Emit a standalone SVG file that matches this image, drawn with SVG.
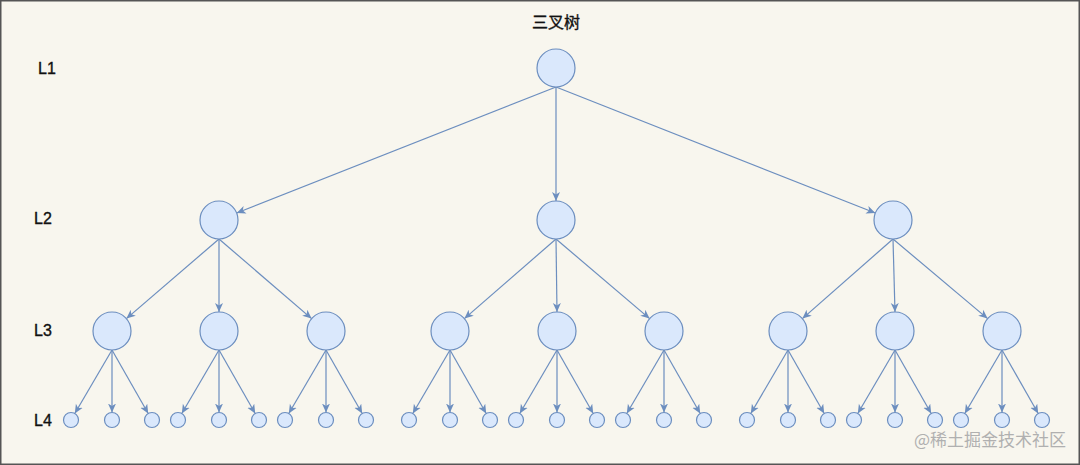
<svg xmlns="http://www.w3.org/2000/svg" width="1080" height="465" viewBox="0 0 1080 465">
<defs>
<marker id="a" markerUnits="userSpaceOnUse" markerWidth="10" markerHeight="10" viewBox="0 0 10 10" refX="9" refY="5" orient="auto"><path d="M0,1 L9,5 L0,9 L2.5,5 Z" fill="#6c8ebf"/></marker>
<style>
.n{fill:#dae8fc;stroke:#6c8ebf;stroke-width:1.2}
.e line{stroke:#6c8ebf;stroke-width:1.2;marker-end:url(#a)}
.t{font-family:"Liberation Sans",Arial,sans-serif;font-size:16px;fill:#111;stroke:#111;stroke-width:0.35}
</style>
</defs>
<rect x="0.5" y="0.5" width="1079" height="464" fill="#f8f6ee" stroke="#555" stroke-width="2"/>
<text class="t" x="556" y="28" text-anchor="middle" style="font-family:'Noto Sans CJK SC',sans-serif;font-size:16px">三叉树</text>
<text class="t" x="38" y="74">L1</text>
<text class="t" x="34" y="224">L2</text>
<text class="t" x="34" y="336">L3</text>
<text class="t" x="34" y="426">L4</text>
<g class="e" id="edges">
<line x1="556" y1="87" x2="236.7" y2="213"/><line x1="556" y1="87" x2="556" y2="201"/><line x1="556" y1="87" x2="875.3" y2="213"/>
<line x1="219" y1="239" x2="126.4" y2="318.6"/><line x1="219" y1="239" x2="219" y2="312"/><line x1="219" y1="239" x2="311.6" y2="318.6"/>
<line x1="556" y1="239" x2="464.4" y2="318.6"/><line x1="556" y1="239" x2="557" y2="312"/><line x1="556" y1="239" x2="649.6" y2="318.6"/>
<line x1="893" y1="239" x2="802.4" y2="318.6"/><line x1="893" y1="239" x2="895" y2="312"/><line x1="893" y1="239" x2="987.6" y2="318.6"/>
<line x1="112" y1="350" x2="74.8" y2="413.5"/><line x1="112" y1="350" x2="112" y2="412.5"/><line x1="112" y1="350" x2="148.2" y2="413.5"/>
<line x1="219" y1="350" x2="181.8" y2="413.5"/><line x1="219" y1="350" x2="219" y2="412.5"/><line x1="219" y1="350" x2="255.2" y2="413.5"/>
<line x1="326" y1="350" x2="288.8" y2="413.5"/><line x1="326" y1="350" x2="326" y2="412.5"/><line x1="326" y1="350" x2="362.2" y2="413.5"/>
<line x1="450" y1="350" x2="412.8" y2="413.5"/><line x1="450" y1="350" x2="450" y2="412.5"/><line x1="450" y1="350" x2="486.2" y2="413.5"/>
<line x1="557" y1="350" x2="519.8" y2="413.5"/><line x1="557" y1="350" x2="557" y2="412.5"/><line x1="557" y1="350" x2="593.2" y2="413.5"/>
<line x1="664" y1="350" x2="626.8" y2="413.5"/><line x1="664" y1="350" x2="664" y2="412.5"/><line x1="664" y1="350" x2="700.2" y2="413.5"/>
<line x1="788" y1="350" x2="750.8" y2="413.5"/><line x1="788" y1="350" x2="788" y2="412.5"/><line x1="788" y1="350" x2="824.2" y2="413.5"/>
<line x1="895" y1="350" x2="857.8" y2="413.5"/><line x1="895" y1="350" x2="895" y2="412.5"/><line x1="895" y1="350" x2="931.2" y2="413.5"/>
<line x1="1002" y1="350" x2="964.8" y2="413.5"/><line x1="1002" y1="350" x2="1002" y2="412.5"/><line x1="1002" y1="350" x2="1038.2" y2="413.5"/>
</g>
<g id="n1"><circle class="n" cx="556" cy="68" r="19"/></g>
<g id="n2a"><circle class="n" cx="219" cy="220" r="19"/></g>
<g id="n2b"><circle class="n" cx="556" cy="220" r="19"/></g>
<g id="n2c"><circle class="n" cx="893" cy="220" r="19"/></g>
<g id="n3a"><circle class="n" cx="112" cy="331" r="19"/></g>
<g id="n3b"><circle class="n" cx="219" cy="331" r="19"/></g>
<g id="n3c"><circle class="n" cx="326" cy="331" r="19"/></g>
<g id="n3d"><circle class="n" cx="450" cy="331" r="19"/></g>
<g id="n3e"><circle class="n" cx="557" cy="331" r="19"/></g>
<g id="n3f"><circle class="n" cx="664" cy="331" r="19"/></g>
<g id="n3g"><circle class="n" cx="788" cy="331" r="19"/></g>
<g id="n3h"><circle class="n" cx="895" cy="331" r="19"/></g>
<g id="n3i"><circle class="n" cx="1002" cy="331" r="19"/></g>
<g id="l4">
<circle class="n" cx="71" cy="420" r="7.5"/><circle class="n" cx="112" cy="420" r="7.5"/><circle class="n" cx="152" cy="420" r="7.5"/>
<circle class="n" cx="178" cy="420" r="7.5"/><circle class="n" cx="219" cy="420" r="7.5"/><circle class="n" cx="259" cy="420" r="7.5"/>
<circle class="n" cx="285" cy="420" r="7.5"/><circle class="n" cx="326" cy="420" r="7.5"/><circle class="n" cx="366" cy="420" r="7.5"/>
<circle class="n" cx="409" cy="420" r="7.5"/><circle class="n" cx="450" cy="420" r="7.5"/><circle class="n" cx="490" cy="420" r="7.5"/>
<circle class="n" cx="516" cy="420" r="7.5"/><circle class="n" cx="557" cy="420" r="7.5"/><circle class="n" cx="597" cy="420" r="7.5"/>
<circle class="n" cx="623" cy="420" r="7.5"/><circle class="n" cx="664" cy="420" r="7.5"/><circle class="n" cx="704" cy="420" r="7.5"/>
<circle class="n" cx="747" cy="420" r="7.5"/><circle class="n" cx="788" cy="420" r="7.5"/><circle class="n" cx="828" cy="420" r="7.5"/>
<circle class="n" cx="854" cy="420" r="7.5"/><circle class="n" cx="895" cy="420" r="7.5"/><circle class="n" cx="935" cy="420" r="7.5"/>
<circle class="n" cx="961" cy="420" r="7.5"/><circle class="n" cx="1002" cy="420" r="7.5"/><circle class="n" cx="1042" cy="420" r="7.5"/>
</g>
<text x="1066" y="446" text-anchor="end" style="font-family:'Noto Sans CJK SC',sans-serif;font-size:17px;fill:#b0b0b0">@稀土掘金技术社区</text>
</svg>
